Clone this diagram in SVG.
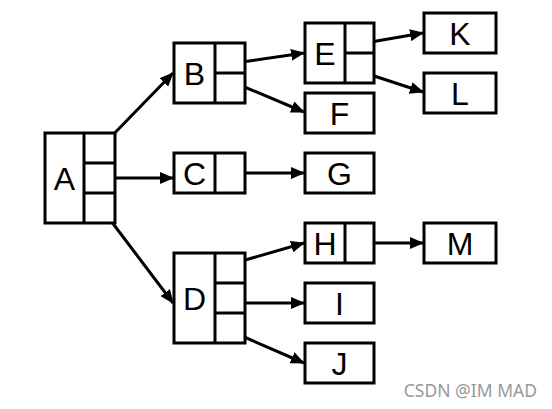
<svg xmlns="http://www.w3.org/2000/svg" width="552" height="409" viewBox="0 0 552 409">
<defs>
<style>
.box{fill:#fff;stroke:#000;stroke-width:3}
.div{stroke:#000;stroke-width:3;fill:none}
.lbl{font-family:"Liberation Sans",Arial,sans-serif;font-size:32px;fill:#000;text-anchor:middle}
.edge{stroke:#000;stroke-width:3;fill:none;marker-end:url(#ah)}
.wm{font-family:"Noto Sans","DejaVu Sans",sans-serif;font-size:17.5px;fill:#999}
</style>
<marker id="ah" markerUnits="userSpaceOnUse" markerWidth="14" markerHeight="12" refX="13" refY="6" orient="auto">
<path d="M0,0 L14,6 L0,12 Z" fill="#000"/>
</marker>
</defs>
<rect width="552" height="409" fill="#fff"/>
<g id="connectors">
<line class="edge" x1="105" y1="143" x2="173" y2="73"/>
<line class="edge" x1="105" y1="178" x2="173" y2="178"/>
<line class="edge" x1="105" y1="213" x2="173" y2="303"/>
<line class="edge" x1="235" y1="63" x2="304" y2="53"/>
<line class="edge" x1="235" y1="83" x2="304" y2="112"/>
<line class="edge" x1="235" y1="173" x2="304" y2="173"/>
<line class="edge" x1="235" y1="263" x2="304" y2="243"/>
<line class="edge" x1="235" y1="303" x2="304" y2="303"/>
<line class="edge" x1="235" y1="333" x2="304" y2="363"/>
<line class="edge" x1="365" y1="43" x2="423" y2="33"/>
<line class="edge" x1="365" y1="73" x2="423" y2="92"/>
<line class="edge" x1="365" y1="243" x2="423" y2="243"/>
</g>
<g id="A">
<rect class="box" x="45" y="133" width="70" height="90"/>
<path class="div" d="M84,133 V223 M84,163 H115 M84,193 H115"/>
<text class="lbl" x="64.5" y="189.5">A</text>
</g>
<g id="B">
<rect class="box" x="174" y="43" width="71" height="60"/>
<path class="div" d="M215,43 V103 M215,73 H245"/>
<text class="lbl" x="194.5" y="84.5">B</text>
</g>
<g id="C">
<rect class="box" x="174" y="153" width="71" height="40"/>
<path class="div" d="M215,153 V193"/>
<text class="lbl" x="194.5" y="184.5">C</text>
</g>
<g id="D">
<rect class="box" x="174" y="253" width="71" height="90"/>
<path class="div" d="M215,253 V343 M215,283 H245 M215,313 H245"/>
<text class="lbl" x="194.5" y="309.5">D</text>
</g>
<g id="E">
<rect class="box" x="305" y="23" width="69" height="60"/>
<path class="div" d="M345,23 V83 M345,53 H374"/>
<text class="lbl" x="325" y="64.5">E</text>
</g>
<g id="F">
<rect class="box" x="305" y="93" width="69" height="40"/>
<text class="lbl" x="339.5" y="124.5">F</text>
</g>
<g id="G">
<rect class="box" x="305" y="153" width="69" height="40"/>
<text class="lbl" x="339.5" y="184.5">G</text>
</g>
<g id="H">
<rect class="box" x="305" y="223" width="69" height="40"/>
<path class="div" d="M345,223 V263"/>
<text class="lbl" x="325" y="254.5">H</text>
</g>
<g id="I">
<rect class="box" x="305" y="283" width="69" height="40"/>
<text class="lbl" x="339.5" y="314.5">I</text>
</g>
<g id="J">
<rect class="box" x="305" y="343" width="69" height="40"/>
<text class="lbl" x="339.5" y="374.5">J</text>
</g>
<g id="K">
<rect class="box" x="424" y="13" width="72" height="40"/>
<text class="lbl" x="460" y="44.5">K</text>
</g>
<g id="L">
<rect class="box" x="424" y="73" width="72" height="40"/>
<text class="lbl" x="460" y="104.5">L</text>
</g>
<g id="M">
<rect class="box" x="424" y="223" width="72" height="40"/>
<text class="lbl" x="460" y="254.5">M</text>
</g>
<text class="wm" x="537" y="397" text-anchor="end">CSDN @IM MAD</text>
</svg>
